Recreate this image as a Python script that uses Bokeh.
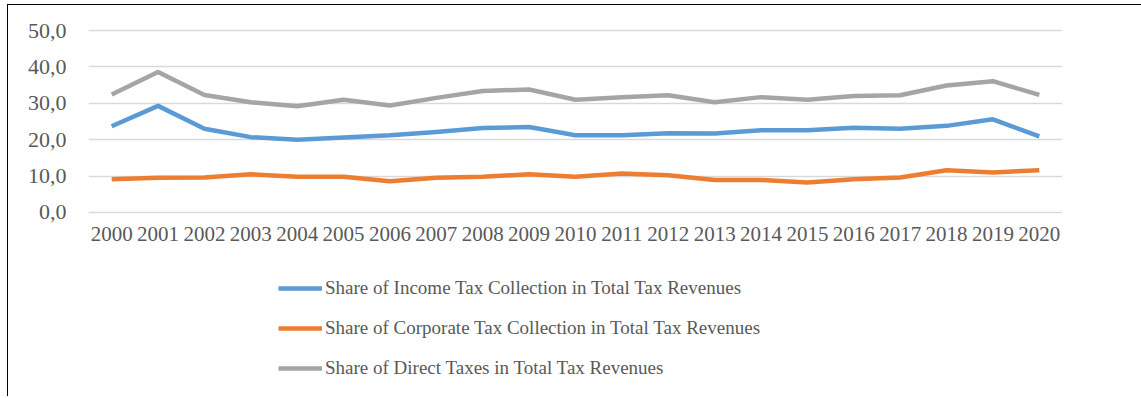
import numpy as np
from bokeh.plotting import figure
from bokeh.layouts import column
from bokeh.models import FactorRange, Legend, LegendItem, FixedTicker, Range1d
from bokeh.embed import file_html
from bokeh.resources import INLINE

years = [str(y) for y in range(2000, 2021)]
income_tax = [23.7, 29.3, 23.0, 20.7, 20.0, 20.6, 21.2, 22.1, 23.2, 23.5, 21.2,
              21.2, 21.8, 21.7, 22.6, 22.6, 23.3, 23.0, 23.8, 25.6, 20.9]
corporate_tax = [9.1, 9.5, 9.6, 10.5, 9.8, 9.8, 8.6, 9.5, 9.8, 10.5, 9.8,
                 10.7, 10.2, 8.9, 8.9, 8.2, 9.1, 9.6, 11.6, 11.0, 11.6]
direct_taxes = [32.4, 38.6, 32.3, 30.3, 29.2, 31.0, 29.4, 31.5, 33.4, 33.8, 31.0,
                31.7, 32.2, 30.3, 31.7, 31.0, 32.0, 32.2, 34.9, 36.1, 32.3]
y_ticks = [0, 10, 20, 30, 40, 50]
y_tick_labels = ["0,0", "10,0", "20,0", "30,0", "40,0", "50,0"]
series_names = ["Share of Income Tax Collection in Total Tax Revenues",
                "Share of Corporate Tax Collection in Total Tax Revenues",
                "Share of Direct Taxes in Total Tax Revenues"]
colors = ["#5B9BD5", "#ED7D31", "#A5A5A5"]

FONT = "Liberation Serif"
TXT = "#595959"
LW = 4.5

p = figure(x_range=FactorRange(factors=years), y_range=Range1d(-0.3, 50.3),
           width=1133, height=245, output_backend="svg", toolbar_location=None,
           min_border_left=80, min_border_right=79, min_border_top=24, min_border_bottom=37)
p.outline_line_color = None

for vals, col in zip([income_tax, corporate_tax, direct_taxes], colors):
    p.line(years, vals, line_color=col, line_width=LW, line_join="round")

p.xgrid.grid_line_color = None
p.ygrid.grid_line_color = "#D9D9D9"
p.ygrid.grid_line_width = 1.3
p.yaxis.ticker = FixedTicker(ticks=y_ticks)
p.yaxis.major_label_overrides = {t: l for t, l in zip(y_ticks, y_tick_labels)}

for ax in [p.xaxis[0], p.yaxis[0]]:
    ax.axis_line_color = None
    ax.major_tick_line_color = None
    ax.minor_tick_line_color = None
    ax.major_tick_out = 0
    ax.major_tick_in = 0
    ax.major_label_text_font = FONT
    ax.major_label_text_color = TXT
p.xaxis.major_label_text_font_size = "21px"
p.yaxis.major_label_text_font_size = "22px"
p.yaxis.major_label_standoff = 22
p.xaxis.major_label_standoff = 13

# legend panel
pl = figure(width=1133, height=146, output_backend="svg", toolbar_location=None,
            x_range=Range1d(0, 1), y_range=Range1d(0, 1),
            min_border_left=80, min_border_right=79, min_border_top=0, min_border_bottom=0)
pl.axis.visible = False
pl.grid.grid_line_color = None
pl.outline_line_color = None
proxies = [pl.line(x=np.array([np.nan]), y=np.array([np.nan]), line_color=c, line_width=LW)
           for c in colors]

legend = Legend(items=[LegendItem(label=n, renderers=[r]) for n, r in zip(series_names, proxies)],
                location=(190, 17))
legend.border_line_color = None
legend.background_fill_alpha = 0
legend.margin = 0
legend.padding = 0
legend.glyph_width = 44
legend.glyph_height = 20
legend.label_height = 20
legend.spacing = 18
legend.label_standoff = 3
legend.label_text_font = FONT
legend.label_text_font_size = "19px"
legend.label_text_color = TXT
pl.add_layout(legend, "center")

layout = column(p, pl, spacing=0,
                styles={"margin-left": "7px", "margin-top": "4px",
                        "border-left": "1px solid #000", "border-top": "1px solid #000"})
open("out.html", "w").write(file_html(layout, INLINE))
